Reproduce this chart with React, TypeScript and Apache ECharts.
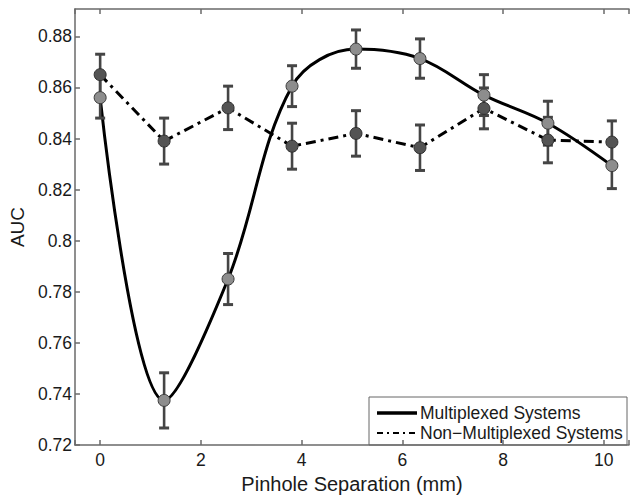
import React, { useEffect, useRef } from "react";
import * as echarts from "echarts";

// Pinhole separation (mm)
const separations = [0, 1.27, 2.54, 3.81, 5.08, 6.35, 7.62, 8.89, 10.16];
// Multiplexed systems AUC and error
const muxAUC = [0.856, 0.7375, 0.785, 0.8605, 0.875, 0.8713, 0.857, 0.846, 0.8294];
const muxErr = [0.008, 0.0108, 0.01, 0.008, 0.0075, 0.0077, 0.008, 0.0086, 0.009];
// Non-multiplexed systems AUC and error
const nonMuxAUC = [0.865, 0.839, 0.852, 0.837, 0.842, 0.8364, 0.8518, 0.8394, 0.8386];
const nonMuxErr = [0.008, 0.009, 0.0085, 0.009, 0.0089, 0.0089, 0.008, 0.0089, 0.0083];

const seriesNames = ["Multiplexed Systems", "Non\u2212Multiplexed Systems"];
const xAxisTitle = "Pinhole Separation (mm)";
const yAxisTitle = "AUC";

const FONT = "'Liberation Sans', Arial, Helvetica, sans-serif";

function errorSeries(values: number[], errs: number[], z: number) {
  return {
    type: "custom",
    z,
    silent: true,
    data: separations.map((x, i) => [x, values[i] - errs[i], values[i] + errs[i]]),
    renderItem: (_params: any, api: any) => {
      const x = api.value(0);
      const lo = api.coord([x, api.value(1)]);
      const hi = api.coord([x, api.value(2)]);
      const half = 5;
      const style = { stroke: "#454545", lineWidth: 2.6, fill: "none" };
      return {
        type: "group",
        children: [
          { type: "line", shape: { x1: lo[0], y1: lo[1], x2: hi[0], y2: hi[1] }, style },
          { type: "line", shape: { x1: hi[0] - half, y1: hi[1], x2: hi[0] + half, y2: hi[1] }, style: { ...style, lineWidth: 3 } },
          { type: "line", shape: { x1: lo[0] - half, y1: lo[1], x2: lo[0] + half, y2: lo[1] }, style: { ...style, lineWidth: 3 } },
        ],
      };
    },
  };
}

export default function App() {
  const ref = useRef<HTMLDivElement>(null);
  useEffect(() => {
    if (!ref.current) return;
    const chart = echarts.init(ref.current, undefined, { renderer: "svg" });
    const axisLineStyle = { color: "#6a6a6a", width: 1.5 };
    chart.setOption({
      animation: false,
      backgroundColor: "#ffffff",
      textStyle: { fontFamily: FONT },
      grid: { left: 74, top: 9, right: -6, bottom: 46, containLabel: false },
      xAxis: [
        {
          type: "value",
          position: "bottom",
          min: -0.5,
          max: 10.5,
          splitNumber: 5,
          name: xAxisTitle,
          nameLocation: "middle",
          nameGap: 27,
          nameTextStyle: { fontFamily: FONT, fontSize: 20, color: "#1a1a1a" },
          axisLine: { show: true, onZero: false, lineStyle: axisLineStyle },
          axisTick: { show: true, inside: true, length: 5, lineStyle: axisLineStyle },
          axisLabel: {
            fontFamily: FONT,
            fontSize: 17.5,
            color: "#1a1a1a",
            margin: 6,
            formatter: (v: number) => (Math.abs(v % 2) < 1e-9 ? String(v) : ""),
          },
          splitLine: { show: false },
        },
        {
          type: "value",
          position: "top",
          min: -0.5,
          max: 10.5,
          splitNumber: 5,
          axisLine: { show: true, onZero: false, lineStyle: axisLineStyle },
          axisTick: { show: true, inside: true, length: 5, lineStyle: axisLineStyle },
          axisLabel: { show: false },
          splitLine: { show: false },
        },
      ],
      yAxis: {
        type: "value",
        min: 0.72,
        max: 0.8907,
        interval: 0.02,
        name: yAxisTitle,
        nameLocation: "middle",
        nameGap: 44,
        nameTextStyle: { fontFamily: FONT, fontSize: 19, color: "#1a1a1a" },
        axisLine: { show: true, onZero: false, lineStyle: axisLineStyle },
        axisTick: { show: true, inside: true, length: 5, lineStyle: axisLineStyle },
        axisLabel: {
          fontFamily: FONT,
          fontSize: 17.5,
          color: "#1a1a1a",
          margin: 3,
          showMaxLabel: false,
          formatter: (v: number) => {
            const k = Math.round(v * 100);
            if (Math.abs(v * 100 - k) > 1e-6 || k > 88) return "";
            return String(k / 100);
          },
        },
        splitLine: { show: false },
      },
      series: [
        {
          name: seriesNames[0],
          type: "line",
          z: 2,
          smooth: 0.35,
          symbol: "none",
          data: separations.map((x, i) => [x, muxAUC[i]]),
          lineStyle: { color: "#000000", width: 3 },
        },
        {
          name: seriesNames[1],
          type: "line",
          z: 2,
          symbol: "none",
          data: separations.map((x, i) => [x, nonMuxAUC[i]]),
          lineStyle: { color: "#000000", width: 3, type: [10, 5, 3, 5] },
        },
        errorSeries(nonMuxAUC, nonMuxErr, 3),
        errorSeries(muxAUC, muxErr, 3),
        {
          type: "scatter",
          z: 4,
          symbol: "circle",
          symbolSize: 12,
          data: separations.map((x, i) => [x, nonMuxAUC[i]]),
          itemStyle: { color: "#545454", borderColor: "#2e2e2e", borderWidth: 1, opacity: 1 },
        },
        {
          type: "scatter",
          z: 5,
          symbol: "circle",
          symbolSize: 12,
          data: separations.map((x, i) => [x, muxAUC[i]]),
          itemStyle: { color: "#8d8d8d", borderColor: "#3a3a3a", borderWidth: 1, opacity: 1 },
        },
      ],
      graphic: [
        {
          type: "group",
          z: 100,
          children: [
            {
              type: "rect",
              shape: { x: 369, y: 397, width: 258, height: 48 },
              style: { fill: "#ffffff", stroke: "#666666", lineWidth: 1 },
            },
            {
              type: "line",
              shape: { x1: 377, y1: 413, x2: 417, y2: 413 },
              style: { stroke: "#000000", lineWidth: 3.5 },
            },
            {
              type: "text",
              x: 420,
              y: 413,
              style: { text: seriesNames[0], fontFamily: FONT, fontSize: 17.5, fill: "#1a1a1a", verticalAlign: "middle" },
            },
            {
              type: "line",
              shape: { x1: 377, y1: 433, x2: 417, y2: 433 },
              style: { stroke: "#000000", lineWidth: 2, lineDash: [6, 4, 2, 4] },
            },
            {
              type: "text",
              x: 420,
              y: 433,
              style: { text: seriesNames[1], fontFamily: FONT, fontSize: 17.5, fill: "#1a1a1a", verticalAlign: "middle" },
            },
          ],
        },
      ],
    });
    return () => chart.dispose();
  }, []);
  return (
    <div
      ref={ref}
      style={{ position: "fixed", left: 0, top: 0, width: 632, height: 499, background: "#fff" }}
    />
  );
}
